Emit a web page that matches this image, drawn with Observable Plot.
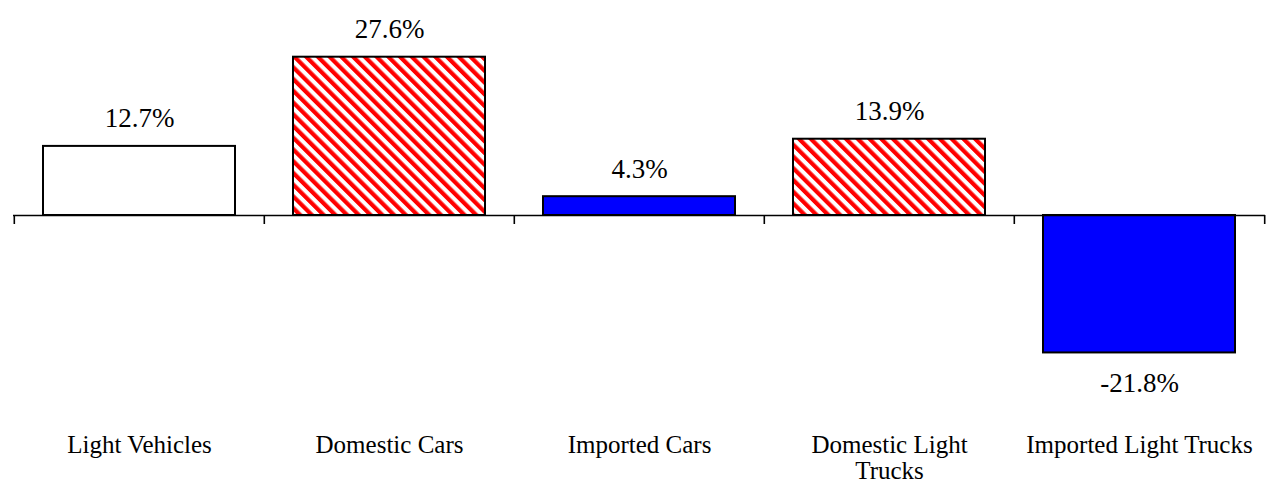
<!DOCTYPE html>
<html>
<head>
<meta charset="utf-8">
<script src="https://cdn.jsdelivr.net/npm/d3@7"></script>
<script src="https://cdn.jsdelivr.net/npm/@observablehq/plot@0.6"></script>
<style>
  html, body { margin: 0; padding: 0; background: #fff; }
  svg { display: block; }
</style>
</head>
<body>
<div id="chart"></div>
<script>
// ---- data ----
const categories = ["Light Vehicles", "Domestic Cars", "Imported Cars", "Domestic Light Trucks", "Imported Light Trucks"];
const tickLabels = ["Light Vehicles", "Domestic Cars", "Imported Cars", "Domestic Light\nTrucks", "Imported Light Trucks"];
const values = [12.7, 27.6, 4.3, 13.9, -21.8];
const fillKinds = ["white", "hatch", "blue", "hatch", "blue"];
const axisCross = 1.16; // value where the horizontal axis crosses (bars start here)

const fillMap = { white: "#ffffff", hatch: "url(#redHatch)", blue: "#0000ff" };
const data = categories.map((c, i) => ({ cat: c, label: tickLabels[i], value: values[i], kind: fillKinds[i] }));

const W = 1268, H = 483;
const marginLeft = 13, marginRight = 3, marginTop = 12.4, marginBottom = 111.4;
const xOpts = { type: "band", domain: categories, paddingInner: 0.233, paddingOuter: 0.1165, range: [marginLeft, W - marginRight] };
const xScale = Plot.scale({ x: xOpts });
const half = xScale.step / 2;

const font = "'Liberation Serif', 'Times New Roman', serif";

const plot = Plot.plot({
  width: W,
  height: H,
  marginLeft, marginRight, marginTop, marginBottom,
  style: { fontFamily: font, background: "#fff" },
  x: { ...xOpts, axis: null },
  y: { domain: [-25, 35], axis: null },
  marks: [
    Plot.barY(data, {
      x: "cat", y1: axisCross, y2: "value",
      fill: d => fillMap[d.kind],
      stroke: "#000", strokeWidth: 2
    }),
    Plot.ruleY([axisCross], { stroke: "#000", strokeWidth: 1.6 }),
    // boundary tick marks below the axis
    Plot.ruleX(categories, { x: d => d, dx: -half, y1: axisCross, y2: axisCross, insetBottom: -9, stroke: "#000", strokeWidth: 1.6 }),
    Plot.ruleX(categories.slice(-1), { x: d => d, dx: half, y1: axisCross, y2: axisCross, insetBottom: -9, stroke: "#000", strokeWidth: 1.6 }),
    // value labels
    Plot.text(data.filter(d => d.value >= 0), {
      x: "cat", y: "value", text: d => d.value.toFixed(1) + "%",
      lineAnchor: "bottom", dy: -19, fontSize: 27, fill: "#000"
    }),
    Plot.text(data.filter(d => d.value < 0), {
      x: "cat", y: "value", text: d => d.value.toFixed(1) + "%",
      lineAnchor: "top", dy: 20, fontSize: 27, fill: "#000"
    }),
    // category labels
    Plot.text(data, {
      x: "cat", frameAnchor: "bottom", text: "label",
      lineAnchor: "top", dy: 62, fontSize: 25, lineHeight: 1.04, fill: "#000"
    })
  ]
});

// hatch pattern definition
const svg = d3.select(plot);
const defs = svg.insert("defs", ":first-child");
const pat = defs.append("pattern")
  .attr("id", "redHatch")
  .attr("patternUnits", "userSpaceOnUse")
  .attr("width", 8.3).attr("height", 10)
  .attr("patternTransform", "rotate(-45)");
pat.append("rect").attr("width", 8.3).attr("height", 10).attr("fill", "#fff");
pat.append("rect").attr("width", 4.2).attr("height", 10).attr("fill", "#ff0000");

document.getElementById("chart").appendChild(plot);
</script>
</body>
</html>
